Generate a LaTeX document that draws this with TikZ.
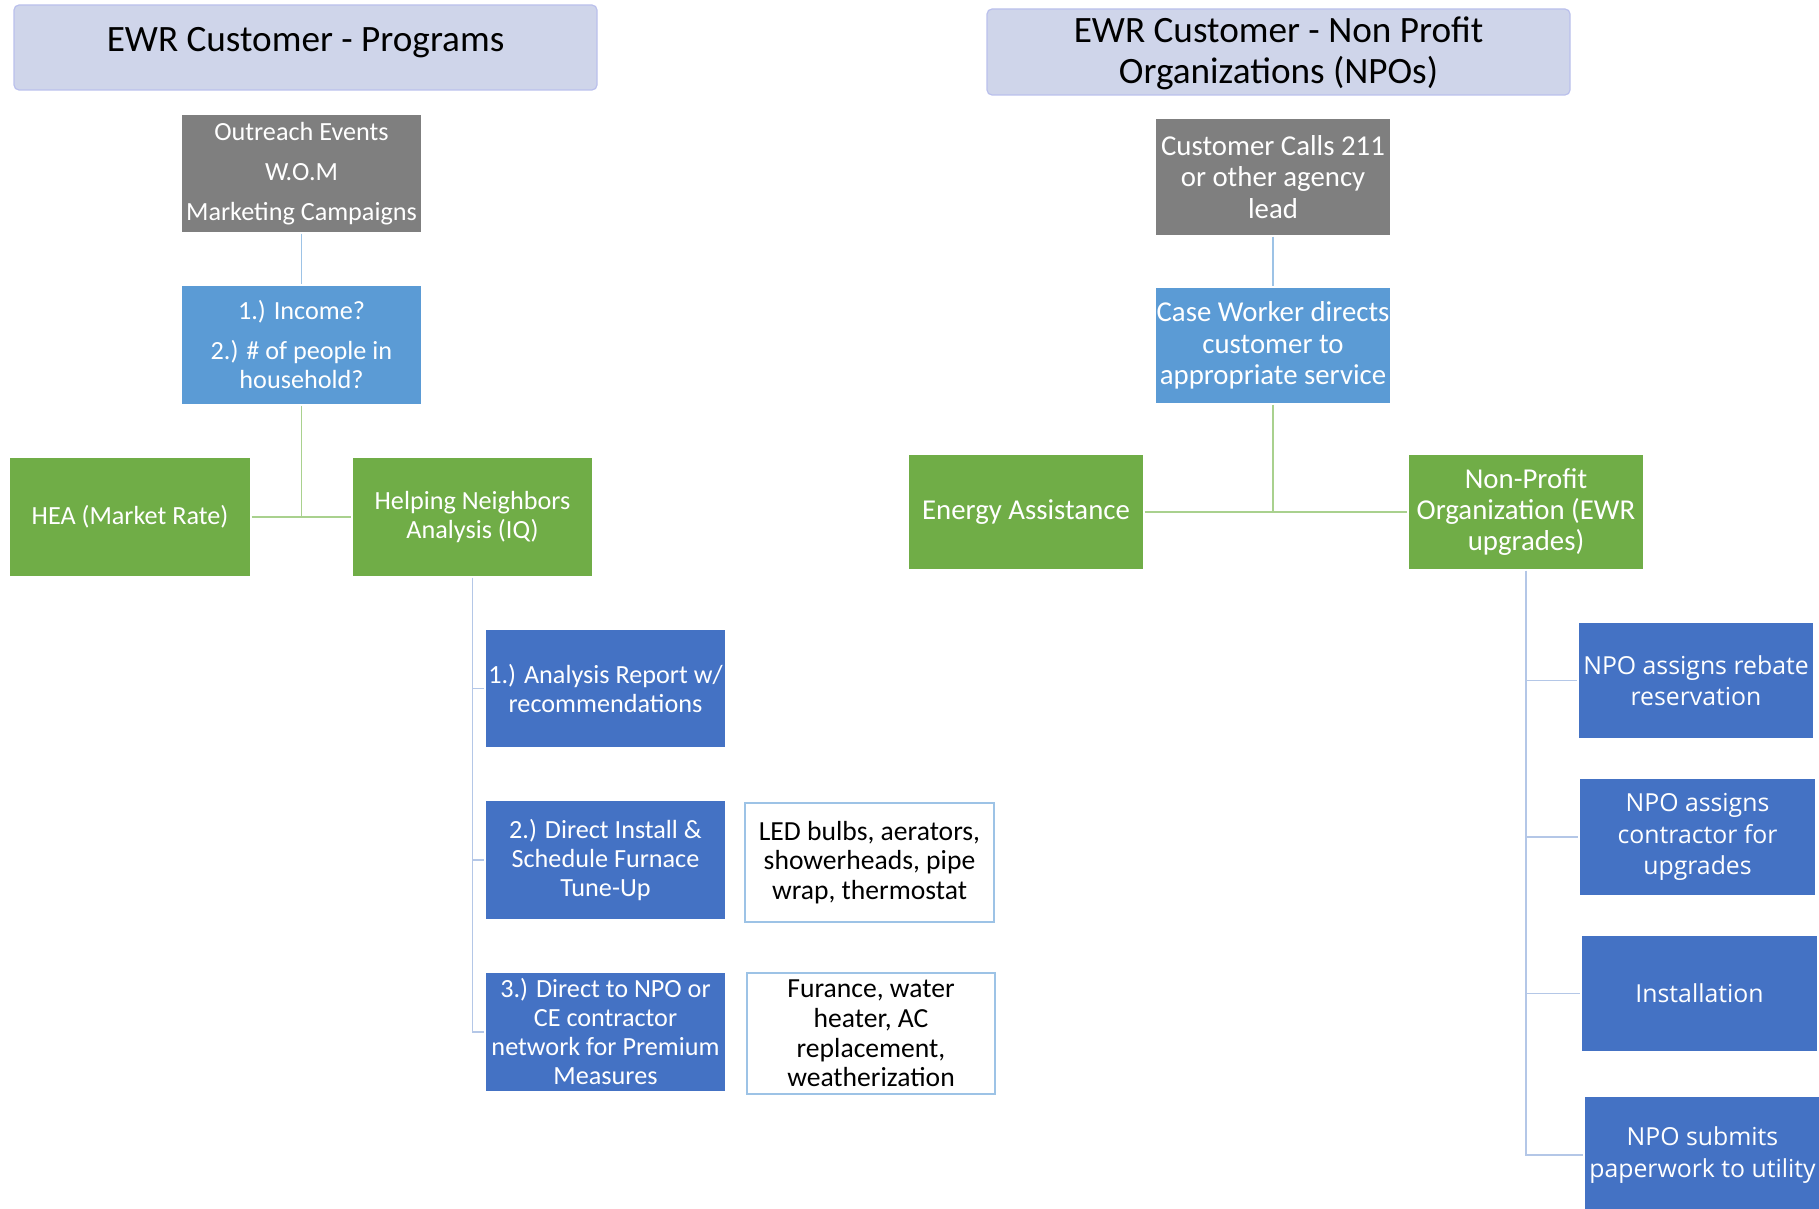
\documentclass[tikz,border=0pt]{standalone}
\usepackage{fontspec}
\setmainfont{Carlito}
\newfontfamily\segoe{Open Sans}
\definecolor{titlefill}{HTML}{CFD5EA}
\definecolor{boxgray}{HTML}{7F7F7F}
\definecolor{boxlblue}{HTML}{5B9BD5}
\definecolor{boxgreen}{HTML}{70AD47}
\definecolor{boxblue}{HTML}{4472C4}
\definecolor{linelblue}{HTML}{9DC3E6}
\definecolor{linegreen}{HTML}{A9D18E}
\definecolor{lineblue}{HTML}{B4C7E7}
\newcommand\bx[7]{\node[#2, minimum width={(#5-#3)*0.5pt}, minimum height={(#6-#4)*0.5pt}] (#1) at ({(#3+#5)/2},{(#4+#6)/2}) {#7};}
\newcommand\shiftv[2]{\raisebox{#1}[\height][\depth]{#2}}
\begin{document}
\begin{tikzpicture}[x=0.5pt,y=-0.5pt,
  box/.style={inner sep=0pt, align=center, text=white, draw=white, line width=0.6pt, font=\fontsize{13.1}{14.5}\selectfont},
  titlebox/.style={box, fill=titlefill, draw=titlefill!90!blue, rounded corners=2.5pt, text=black, font=\fontsize{18.6}{20.3}\selectfont},
  graybox/.style={box, fill=boxgray},
  lbluebox/.style={box, fill=boxlblue},
  greenbox/.style={box, fill=boxgreen},
  bluebox/.style={box, fill=boxblue},
  rfont/.style={font=\fontsize{14.4}{15.7}\selectfont},
  segbox/.style={bluebox, font=\segoe\fontsize{12.4}{15.7}\selectfont},
  notebox/.style={box, fill=white, draw=linelblue, text=black, font=\fontsize{13.8}{14.8}\selectfont},
  conlb/.style={draw=linelblue, line width=0.7pt},
  congr/.style={draw=linegreen, line width=0.9pt},
  conbl/.style={draw=lineblue, line width=0.9pt}]
\useasboundingbox (0,0) rectangle (1819,1209);
% left
\bx{t1}{titlebox}{14}{5}{597}{90}{\shiftv{2.3pt}{EWR Customer - Programs}}
\bx{out}{graybox}{181}{114}{422}{233}{Outreach Events\\[5.5pt]W.O.M\\[5.5pt]Marketing Campaigns}
\bx{inc}{lbluebox}{181}{285}{422}{405}{1.) Income?\\[5.5pt]2.) \# of people in\\household?}
\bx{hea}{greenbox}{9}{457}{251}{577}{HEA (Market Rate)}
\bx{help}{greenbox}{352}{457}{593}{577}{Helping Neighbors\\Analysis (IQ)}
\bx{a1}{bluebox}{485}{629}{726}{748}{1.) Analysis Report w/\\recommendations}
\bx{a2}{bluebox}{485}{800}{726}{920}{2.) Direct Install \&\\Schedule Furnace\\Tune-Up}
\bx{a3}{bluebox}{485}{972}{726}{1092}{3.) Direct to NPO or\\CE contractor\\network for Premium\\Measures}
\bx{n2}{notebox}{745}{803}{994}{922}{LED bulbs, aerators,\\showerheads, pipe\\wrap, thermostat}
\bx{n3}{notebox}{747}{973}{995}{1094}{Furance, water\\heater, AC\\replacement,\\weatherization}
% right
\bx{t2}{titlebox}{987}{9}{1570}{95}{\shiftv{-1.5pt}{\begin{tabular}{@{}c@{}}EWR Customer - Non Profit\\Organizations (NPOs)\end{tabular}}}
\bx{calls}{graybox,rfont}{1155}{118}{1391}{236}{Customer Calls 211\\or other agency\\lead}
\bx{case}{lbluebox,rfont}{1155}{287}{1391}{404}{Case Worker directs\\customer to\\appropriate service}
\bx{ea}{greenbox,rfont}{908}{454}{1144}{570}{Energy Assistance}
\bx{npo}{greenbox,rfont}{1408}{454}{1644}{570}{Non-Profit\\Organization (EWR\\upgrades)}
\bx{r1}{segbox}{1578}{622}{1814}{739}{NPO assigns rebate\\reservation}
\bx{r2}{segbox}{1579}{778}{1816}{896}{NPO assigns\\contractor for\\upgrades}
\bx{r3}{segbox}{1581}{935}{1818}{1052}{Installation}
\bx{r4}{segbox}{1584}{1096}{1821}{1214}{NPO submits\\paperwork to utility}
% connectors left
\draw[conlb] (out.south) -- (inc.north);
\draw[congr] (inc.south) -- (inc.south |- hea.east);
\draw[congr] (hea.east) -- (help.west);
\draw[conbl] (help.south) -- (help.south |- a3.west) -- (a3.west);
\draw[conbl] (help.south |- a1.west) -- (a1.west);
\draw[conbl] (help.south |- a2.west) -- (a2.west);
% connectors right
\draw[conlb] (calls.south) -- (case.north);
\draw[congr] (case.south) -- (case.south |- ea.east);
\draw[congr] (ea.east) -- (npo.west);
\draw[conbl] (npo.south) -- (npo.south |- r4.west) -- (r4.west);
\draw[conbl] (npo.south |- r1.west) -- (r1.west);
\draw[conbl] (npo.south |- r2.west) -- (r2.west);
\draw[conbl] (npo.south |- r3.west) -- (r3.west);
\end{tikzpicture}
\end{document}
